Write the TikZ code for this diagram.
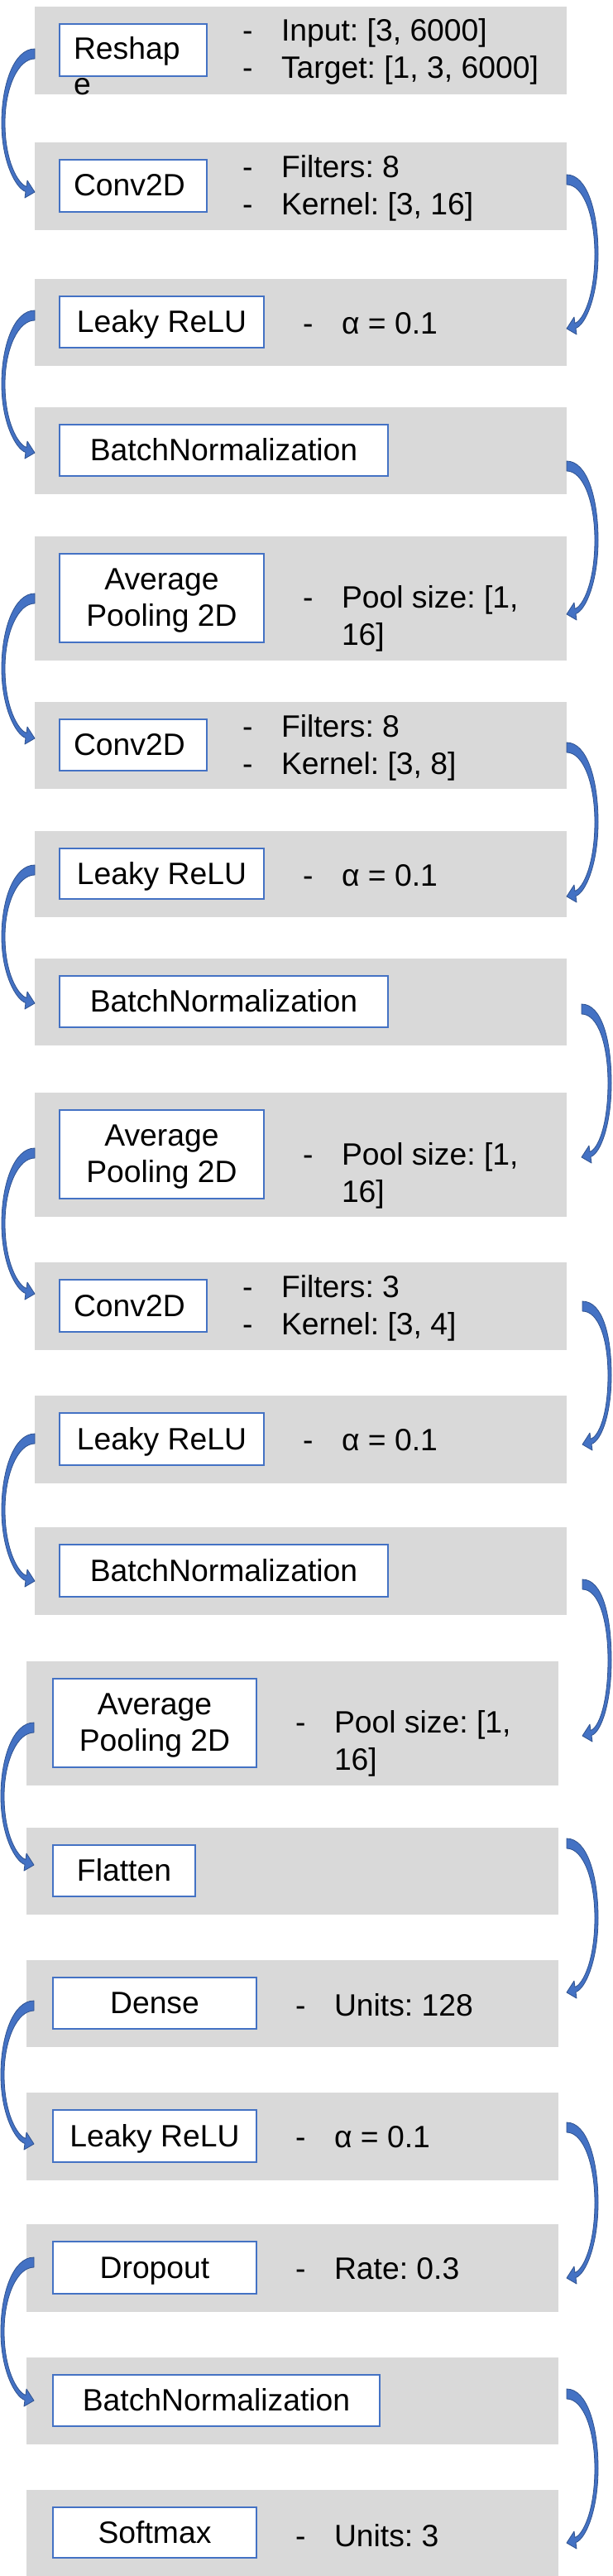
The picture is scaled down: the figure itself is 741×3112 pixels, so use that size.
\documentclass[tikz,border=0pt]{standalone}
\usepackage{fontspec}
\setmainfont{Liberation Sans}
\usetikzlibrary{calc}
\frenchspacing
\definecolor{grayfill}{HTML}{D9D9D9}
\definecolor{boxline}{HTML}{4472C4}
\definecolor{arrowfill}{HTML}{4472C4}
\definecolor{arrowline}{HTML}{2F528F}
\tikzset{
  graybox/.style={fill=grayfill, draw=none, inner sep=0pt, outer sep=0pt, anchor=north west, rectangle},
  whitebox/.style={fill=white, draw=boxline, line width=1.6pt, inner sep=0pt, outer sep=0pt, anchor=north west, rectangle},
  lbl/.style={inner sep=0pt, outer sep=0pt, font=\fontsize{37.3}{44}\selectfont\frenchspacing},
  curvedarrow/.style={fill=arrowfill, draw=arrowline, line width=0.8pt, line join=round},
}
% gray box: name, x0, x1, y0, y1
\newcommand\gbox[5]{%
  \pgfmathsetmacro\bw{#3-#2}\pgfmathsetmacro\bh{#5-#4}%
  \node[graybox, minimum width=\bw pt, minimum height=\bh pt] (#1) at (#2,#4) {};}
\newcommand\wbox[5]{%
  \pgfmathsetmacro\bw{#3-#2}\pgfmathsetmacro\bh{#5-#4}%
  \node[whitebox, minimum width=\bw pt, minimum height=\bh pt] (#1) at (#2,#4) {};}
% curved arrow: start coord, tip coord, sign (+1 right, -1 left), bulge
\newcommand\carrow[4]{%
  \fill[curvedarrow]
    ($(#1)+(0,-6)$)
    .. controls ($(#1)+({#3*25},-6)$) and ($(#1)!0.22!(#2)+({#3*#4},0)$) .. ($(#1)!0.5!(#2)+({#3*#4},0)$)
    .. controls ($(#1)!0.78!(#2)+({#3*#4},0)$) and ($(#2)+({#3*23},-4.5)$) .. ($(#2)+({#3*11},-0.5)$)
    -- ($(#2)+({#3*12},7)$) -- (#2) -- ($(#2)+({#3*9},-14)$) -- ($(#2)+({#3*10},-6.5)$)
    .. controls ($(#2)+({#3*20},-10)$) and ($(#1)!0.78!(#2)+({#3*(#4-4)},0)$) .. ($(#1)!0.5!(#2)+({#3*(#4-4)},0)$)
    .. controls ($(#1)!0.22!(#2)+({#3*(#4-4)},4)$) and ($(#1)+({#3*20},6)$) .. ($(#1)+(0,6)$)
    -- cycle;}
\begin{document}
\begin{tikzpicture}[x=1pt,y=-1pt]
\useasboundingbox[fill=white] (0,0) rectangle (741,3112);
% ---------- gray panels ----------
\gbox{g1}{42}{685}{8}{114}
\gbox{g2}{42}{685}{172}{278}
\gbox{g3}{42}{685}{337}{442}
\gbox{g4}{42}{685}{492}{597}
\gbox{g5}{42}{685}{648}{798}
\gbox{g6}{42}{685}{848}{953}
\gbox{g7}{42}{685}{1004}{1108}
\gbox{g8}{42}{685}{1158}{1263}
\gbox{g9}{42}{685}{1320}{1470}
\gbox{g10}{42}{685}{1525}{1631}
\gbox{g11}{42}{685}{1686}{1792}
\gbox{g12}{42}{685}{1845}{1951}
\gbox{g13}{32}{675}{2007}{2157}
\gbox{g14}{32}{675}{2208}{2313}
\gbox{g15}{32}{675}{2368}{2473}
\gbox{g16}{32}{675}{2528}{2634}
\gbox{g17}{32}{675}{2687}{2793}
\gbox{g18}{32}{675}{2848}{2953}
\gbox{g19}{32}{675}{3008}{3112}
% ---------- white layer boxes ----------
\wbox{w1}{72}{250}{29}{92}
\wbox{w2}{72}{250}{193}{256}
\wbox{w3}{72}{319}{358}{420}
\wbox{w4}{72}{469}{513}{575}
\wbox{w5}{72}{319}{669}{776}
\wbox{w6}{72}{250}{869}{931}
\wbox{w7}{72}{319}{1025}{1086}
\wbox{w8}{72}{469}{1179}{1241}
\wbox{w9}{72}{319}{1341}{1448}
\wbox{w10}{72}{250}{1546}{1609}
\wbox{w11}{72}{319}{1707}{1770}
\wbox{w12}{72}{469}{1866}{1929}
\wbox{w13}{64}{310}{2028}{2135}
\wbox{w14}{64}{236}{2229}{2291}
\wbox{w15}{64}{310}{2389}{2451}
\wbox{w16}{64}{310}{2549}{2612}
\wbox{w17}{64}{310}{2708}{2771}
\wbox{w18}{64}{459}{2869}{2931}
\wbox{w19}{64}{310}{3029}{3090}
% ---------- layer names ----------
\node[lbl, anchor=base west] (n1a) at (89,72) {Reshap};
\node[lbl, anchor=base west] (n1b) at (89,115) {e};
\node[lbl, anchor=base west] (n2) at (89,237) {Conv2D};
\node[lbl, anchor=base] (n3) at (195.5,401.5) {Leaky ReLU};
\node[lbl, anchor=base] (n4) at (270.5,556.5) {BatchNormalization};
\node[lbl, anchor=base] (n5a) at (195.5,712) {Average};
\node[lbl, anchor=base] (n5b) at (195.5,756) {Pooling 2D};
\node[lbl, anchor=base west] (n6) at (89,912.5) {Conv2D};
\node[lbl, anchor=base] (n7) at (195.5,1068) {Leaky ReLU};
\node[lbl, anchor=base] (n8) at (270.5,1222.5) {BatchNormalization};
\node[lbl, anchor=base] (n9a) at (195.5,1384) {Average};
\node[lbl, anchor=base] (n9b) at (195.5,1428) {Pooling 2D};
\node[lbl, anchor=base west] (n10) at (89,1590) {Conv2D};
\node[lbl, anchor=base] (n11) at (195.5,1751) {Leaky ReLU};
\node[lbl, anchor=base] (n12) at (270.5,1910) {BatchNormalization};
\node[lbl, anchor=base] (n13a) at (187,2071) {Average};
\node[lbl, anchor=base] (n13b) at (187,2115) {Pooling 2D};
\node[lbl, anchor=base] (n14) at (150,2272.5) {Flatten};
\node[lbl, anchor=base] (n15) at (187,2432.5) {Dense};
\node[lbl, anchor=base] (n16) at (187,2593) {Leaky ReLU};
\node[lbl, anchor=base] (n17) at (187,2752) {Dropout};
\node[lbl, anchor=base] (n18) at (261.5,2912.5) {BatchNormalization};
\node[lbl, anchor=base] (n19) at (187,3072) {Softmax};
% ---------- parameters ----------
\node[lbl, anchor=base west] (d1a) at (293,50) {-};
\node[lbl, anchor=base west] (p1a) at (340,50) {Input: [3, 6000]};
\node[lbl, anchor=base west] (d1b) at (293,95) {-};
\node[lbl, anchor=base west] (p1b) at (340,95) {Target: [1, 3, 6000]};
\node[lbl, anchor=base west] (d2a) at (293,215) {-};
\node[lbl, anchor=base west] (p2a) at (340,215) {Filters: 8};
\node[lbl, anchor=base west] (d2b) at (293,260) {-};
\node[lbl, anchor=base west] (p2b) at (340,260) {Kernel: [3, 16]};
\node[lbl, anchor=base west] (d3) at (366,403) {-};
\node[lbl, anchor=base west] (p3) at (413,403) {α = 0.1};
\node[lbl, anchor=base west] (d5) at (366,734) {-};
\node[lbl, anchor=base west] (p5a) at (413,734) {Pool size: [1,};
\node[lbl, anchor=base west] (p5b) at (413,779) {16]};
\node[lbl, anchor=base west] (d6a) at (293,890) {-};
\node[lbl, anchor=base west] (p6a) at (340,890) {Filters: 8};
\node[lbl, anchor=base west] (d6b) at (293,935) {-};
\node[lbl, anchor=base west] (p6b) at (340,935) {Kernel: [3, 8]};
\node[lbl, anchor=base west] (d7) at (366,1070) {-};
\node[lbl, anchor=base west] (p7) at (413,1070) {α = 0.1};
\node[lbl, anchor=base west] (d9) at (366,1407) {-};
\node[lbl, anchor=base west] (p9a) at (413,1407) {Pool size: [1,};
\node[lbl, anchor=base west] (p9b) at (413,1452) {16]};
\node[lbl, anchor=base west] (d10a) at (293,1567) {-};
\node[lbl, anchor=base west] (p10a) at (340,1567) {Filters: 3};
\node[lbl, anchor=base west] (d10b) at (293,1612) {-};
\node[lbl, anchor=base west] (p10b) at (340,1612) {Kernel: [3, 4]};
\node[lbl, anchor=base west] (d11) at (366,1752) {-};
\node[lbl, anchor=base west] (p11) at (413,1752) {α = 0.1};
\node[lbl, anchor=base west] (d13) at (357,2093) {-};
\node[lbl, anchor=base west] (p13a) at (404,2093) {Pool size: [1,};
\node[lbl, anchor=base west] (p13b) at (404,2138) {16]};
\node[lbl, anchor=base west] (d15) at (357,2435) {-};
\node[lbl, anchor=base west] (p15) at (404,2435) {Units: 128};
\node[lbl, anchor=base west] (d16) at (357,2594) {-};
\node[lbl, anchor=base west] (p16) at (404,2594) {α = 0.1};
\node[lbl, anchor=base west] (d17) at (357,2753) {-};
\node[lbl, anchor=base west] (p17) at (404,2753) {Rate: 0.3};
\node[lbl, anchor=base west] (d19) at (357,3076) {-};
\node[lbl, anchor=base west] (p19) at (404,3076) {Units: 3};
% ---------- connector end points ----------
\coordinate (s1) at (42,65);    \coordinate (e1) at (42,232);
\coordinate (s2) at (685,217);  \coordinate (e2) at (685,397);
\coordinate (s3) at (42,381);   \coordinate (e3) at (42,547);
\coordinate (s4) at (685,563);  \coordinate (e4) at (685,742);
\coordinate (s5) at (42,723);   \coordinate (e5) at (42,892);
\coordinate (s6) at (685,903);  \coordinate (e6) at (685,1083);
\coordinate (s7) at (42,1051);  \coordinate (e7) at (42,1212);
\coordinate (s8) at (703,1219); \coordinate (e8) at (703,1398);
\coordinate (s9) at (42,1393);  \coordinate (e9) at (42,1563);
\coordinate (s10) at (704,1578); \coordinate (e10) at (704,1745);
\coordinate (s11) at (42,1738); \coordinate (e11) at (42,1910);
\coordinate (s12) at (704,1914); \coordinate (e12) at (704,2097);
\coordinate (s13) at (41,2087); \coordinate (e13) at (41,2253);
\coordinate (s14) at (685,2227); \coordinate (e14) at (685,2407);
\coordinate (s15) at (41,2423); \coordinate (e15) at (41,2590);
\coordinate (s16) at (685,2570); \coordinate (e16) at (685,2752);
\coordinate (s17) at (41,2733); \coordinate (e17) at (41,2900);
\coordinate (s18) at (685,2892); \coordinate (e18) at (685,3072);
% ---------- curved arrows ----------
\carrow{s1}{e1}{-1}{40}
\carrow{s2}{e2}{1}{38}
\carrow{s3}{e3}{-1}{40}
\carrow{s4}{e4}{1}{38}
\carrow{s5}{e5}{-1}{40}
\carrow{s6}{e6}{1}{38}
\carrow{s7}{e7}{-1}{40}
\carrow{s8}{e8}{1}{36}
\carrow{s9}{e9}{-1}{40}
\carrow{s10}{e10}{1}{35}
\carrow{s11}{e11}{-1}{40}
\carrow{s12}{e12}{1}{35}
\carrow{s13}{e13}{-1}{40}
\carrow{s14}{e14}{1}{38}
\carrow{s15}{e15}{-1}{40}
\carrow{s16}{e16}{1}{38}
\carrow{s17}{e17}{-1}{40}
\carrow{s18}{e18}{1}{38}
\end{tikzpicture}
\end{document}
